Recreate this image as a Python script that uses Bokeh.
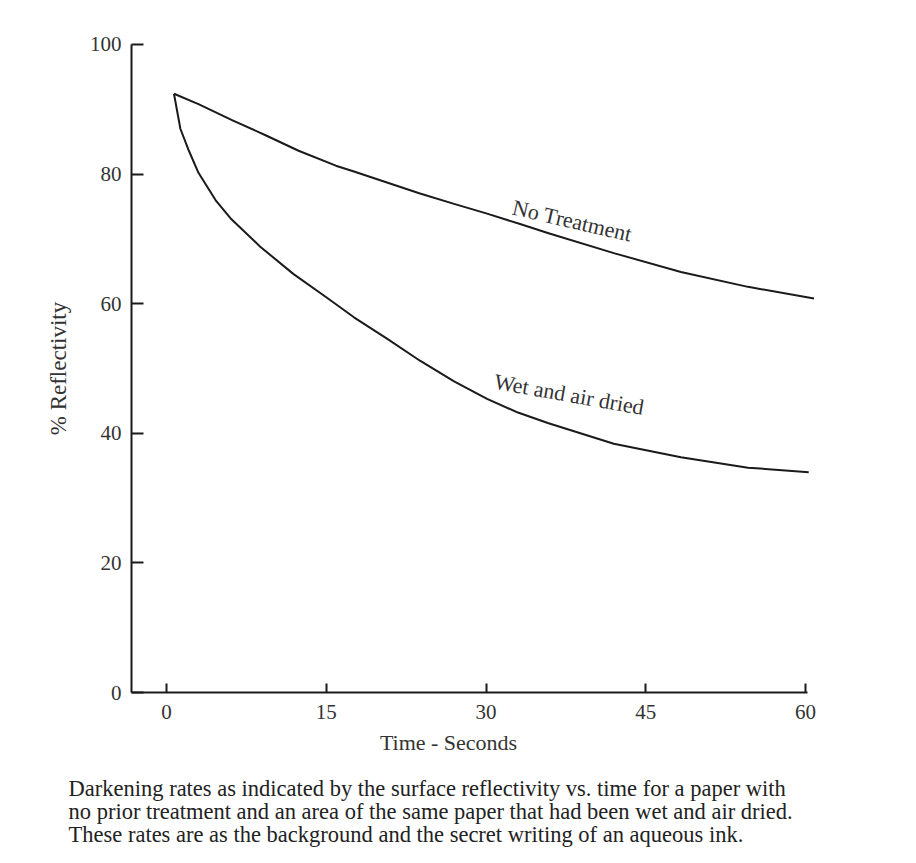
from bokeh.plotting import figure
from bokeh.models import Range1d, Label, FixedTicker
from bokeh.embed import file_html
from bokeh.resources import INLINE

# ---- data ----
time_no_treatment = [0.7, 3.0, 6.2, 9.3, 12.4, 15.9, 17.6, 20.7, 23.8, 27.0, 30.1, 33.2,
                     35.8, 42.0, 48.3, 54.6, 60.8]
refl_no_treatment = [92.4, 90.8, 88.3, 86.0, 83.6, 81.3, 80.4, 78.7, 77.0, 75.4, 73.9, 72.3,
                     70.9, 67.8, 64.9, 62.6, 60.8]

time_wet_dried = [0.7, 1.3, 2.1, 3.0, 4.6, 6.0, 8.8, 11.9, 15.0, 17.6, 20.7, 23.8, 27.0,
                  30.1, 33.0, 35.8, 42.0, 48.3, 54.6, 60.3]
refl_wet_dried = [92.4, 87.0, 83.6, 80.2, 76.0, 73.2, 68.8, 64.6, 61.0, 57.9, 54.6, 51.2, 48.0,
                  45.3, 43.2, 41.6, 38.4, 36.3, 34.7, 34.0]

x_ticks = [0, 15, 30, 45, 60]
y_ticks = [0, 20, 40, 60, 80, 100]

caption_lines = [
    "Darkening rates as indicated by the surface reflectivity vs. time for a paper with",
    "no prior treatment and an area of the same paper that had been wet and air dried.",
    "These rates are as the background and the secret writing of an aqueous ink.",
]

FONT = "Liberation Serif"
INK = "#1a1a1a"
TXT = "#333333"

W, H = 900, 852
# data window chosen so the axes land where they sit in the original page
p = figure(width=W, height=H, output_backend="svg", toolbar_location=None,
           x_range=Range1d(-15.59, 68.92), y_range=Range1d(-24.69, 106.79),
           min_border=0)
p.title.visible = False
p.outline_line_color = None
p.grid.visible = False
p.background_fill_color = "white"
p.border_fill_color = "white"

# axes (fixed inside the data window)
xa = p.xaxis[0]
xa.fixed_location = 0
xa.bounds = (-3.3, 60.2)
xa.ticker = FixedTicker(ticks=x_ticks)
xa.major_tick_in = 9
xa.major_tick_out = 0
xa.minor_tick_line_color = None
xa.axis_line_width = 2
xa.axis_line_color = INK
xa.major_tick_line_width = 2
xa.major_tick_line_color = INK
xa.major_label_text_font = FONT
xa.major_label_text_font_size = "21px"
xa.major_label_text_color = TXT
xa.major_label_standoff = 12

ya = p.yaxis[0]
ya.fixed_location = -3.3
ya.bounds = (0, 100)
ya.ticker = FixedTicker(ticks=y_ticks)
ya.major_tick_in = 12
ya.major_tick_out = 0
ya.minor_tick_line_color = None
ya.axis_line_width = 2
ya.axis_line_color = INK
ya.major_tick_line_width = 2
ya.major_tick_line_color = INK
ya.major_label_text_font = FONT
ya.major_label_text_font_size = "21px"
ya.major_label_text_color = TXT
ya.major_label_standoff = 10
ya.axis_label = "% Reflectivity"
ya.axis_label_text_font = FONT
ya.axis_label_text_font_size = "23px"
ya.axis_label_text_font_style = "normal"
ya.axis_label_text_color = TXT
ya.axis_label_standoff = 16

# curves
p.line(time_no_treatment, refl_no_treatment, line_color=INK, line_width=2, line_join="round")
p.line(time_wet_dried, refl_wet_dried, line_color=INK, line_width=2, line_join="round")

# curve labels
p.add_layout(Label(x=38.1, y=72.8, text="No Treatment", angle=-0.227,
                   text_align="center", text_baseline="middle",
                   text_font=FONT, text_font_size="22px", text_color=TXT))
p.add_layout(Label(x=37.8, y=46.0, text="Wet and air dried", angle=-0.175,
                   text_align="center", text_baseline="middle",
                   text_font=FONT, text_font_size="22px", text_color=TXT))

# x axis title
p.add_layout(Label(x=26.48, y=-7.72, text="Time - Seconds",
                   text_align="center", text_baseline="middle",
                   text_font=FONT, text_font_size="22px", text_color=TXT))

# caption
caption_y = [-14.81, -18.36, -21.91]
for line, cy in zip(caption_lines, caption_y):
    p.add_layout(Label(x=-9.2, y=cy, text=line,
                       text_align="left", text_baseline="middle",
                       text_font=FONT, text_font_size="22.5px", text_color="#222222"))

open("out.html", "w").write(file_html(p, INLINE))
